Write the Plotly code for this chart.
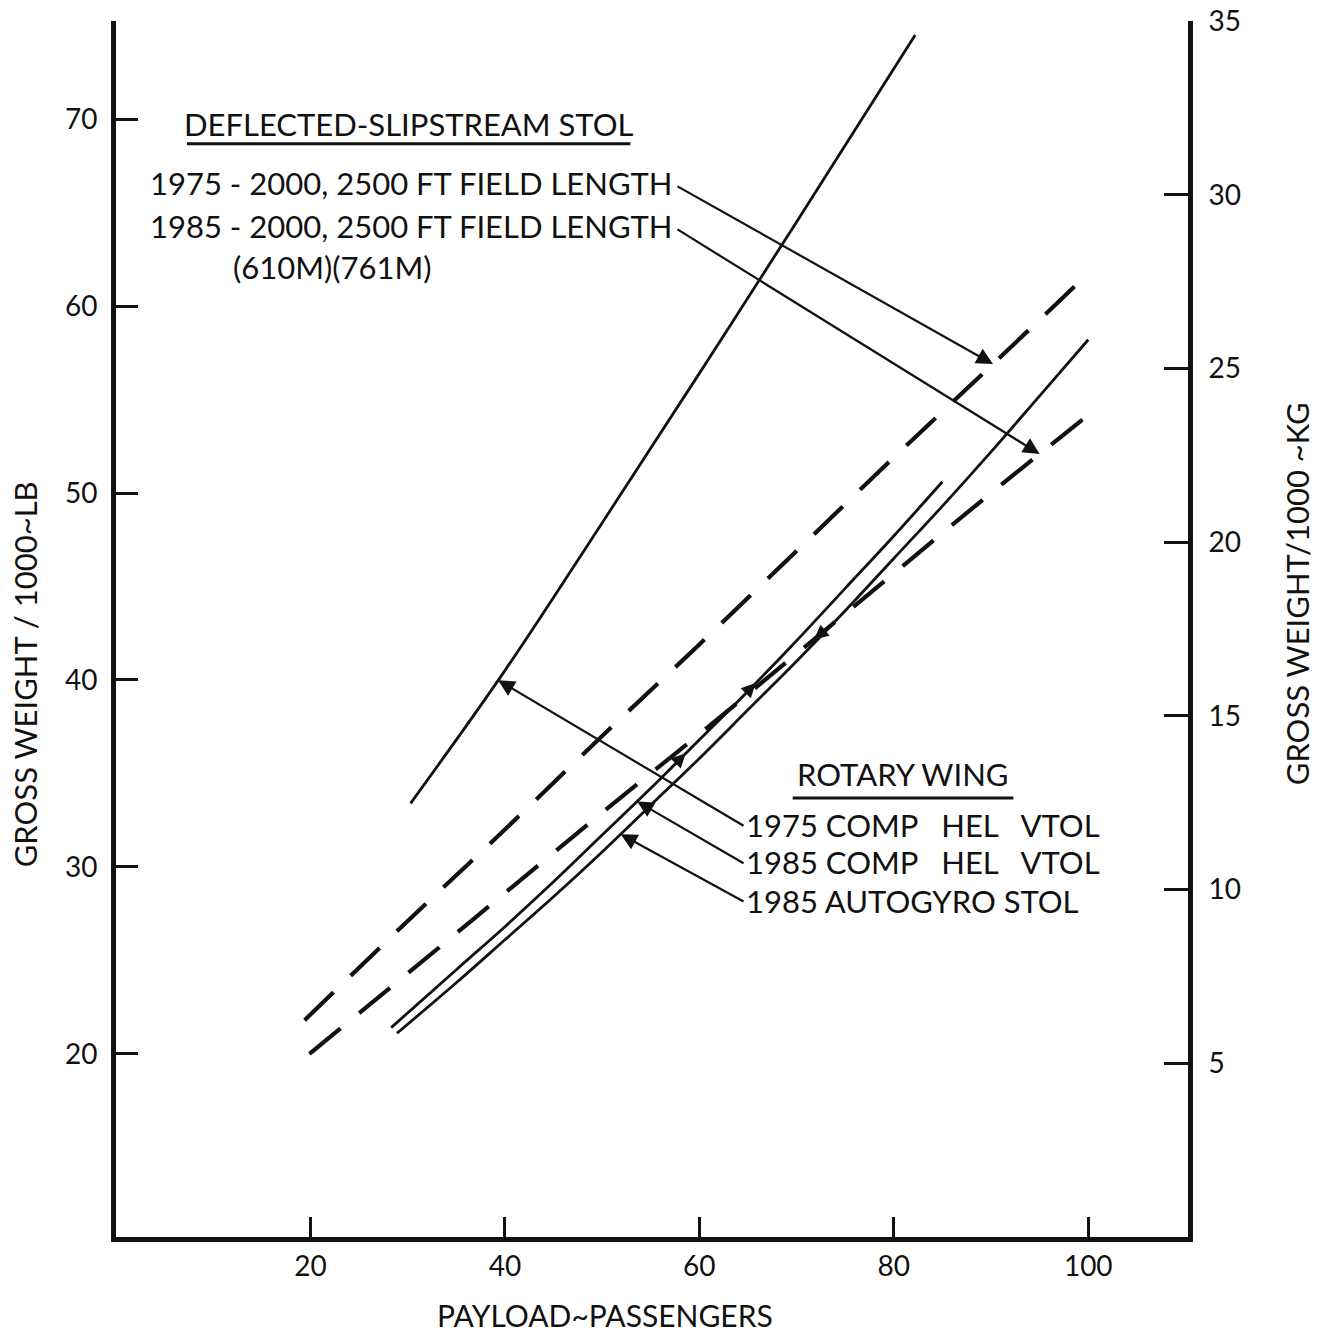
import numpy as np
import plotly.graph_objects as go

# ---------------- data ----------------
# 1975 compound helicopter VTOL (steep solid line)
hel75_x = [30.3, 40, 50, 60, 70, 82.2]
hel75_y = [33.4, 40.5, 48.4, 56.4, 64.5, 74.5]
# 1975-2000 deflected slipstream STOL (upper dashed)
stol75_x = [19.4, 30, 40, 50, 60, 70, 80, 90, 99.5]
stol75_y = [21.8, 27.1, 32.0, 37.0, 41.9, 46.9, 51.9, 56.8, 61.5]
# 1985-2000 deflected slipstream STOL (lower dashed)
stol85_x = [19.9, 30, 40, 50, 60, 70, 80, 90, 100.8]
stol85_y = [20.0, 24.3, 28.6, 32.9, 37.1, 41.4, 45.7, 50.0, 54.5]
# 1985 compound helicopter VTOL (solid, ends at 85)
hel85_x = [28.3, 35, 40, 45, 50, 55, 60, 65, 70, 75, 80, 85]
hel85_y = [21.4, 24.5, 26.8, 29.2, 31.7, 34.2, 36.8, 39.4, 42.1, 44.9, 47.7, 50.6]
# 1985 autogyro STOL (solid, to 100)
gyro85_x = [28.9, 35, 40, 45, 50, 55, 60, 65, 70, 75, 80, 85, 90, 95, 100]
gyro85_y = [21.1, 23.8, 26.1, 28.4, 30.8, 33.3, 35.8, 38.4, 41.0, 43.7, 46.5, 49.3, 52.2, 55.2, 58.2]

x_ticks = [20, 40, 60, 80, 100]
lb_ticks = [20, 30, 40, 50, 60, 70]
kg_ticks = [5, 10, 15, 20, 25, 30, 35]

FONT = "Lato"
INK = "#111111"
NB = "&nbsp;"

fig = go.Figure()

solid = dict(color=INK, width=2.8)
dashed = dict(color=INK, width=4.2, dash="40px,24px")

fig.add_trace(go.Scatter(x=hel75_x, y=hel75_y, mode="lines", line=dict(solid, shape="spline")))
fig.add_trace(go.Scatter(x=stol75_x, y=stol75_y, mode="lines", line=dict(dashed, shape="spline")))
fig.add_trace(go.Scatter(x=stol85_x, y=stol85_y, mode="lines", line=dict(dashed, shape="spline")))
fig.add_trace(go.Scatter(x=hel85_x, y=hel85_y, mode="lines", line=dict(solid, shape="spline")))
fig.add_trace(go.Scatter(x=gyro85_x, y=gyro85_y, mode="lines", line=dict(solid, shape="spline")))
# invisible trace to activate the right (kg) axis
fig.add_trace(go.Scatter(x=[None], y=[None], yaxis="y2", mode="lines", showlegend=False))


def on(xs, ys, x):
    return float(np.interp(x, xs, ys))


annotations = []
txt = dict(family=FONT, size=31, color=INK)


def label(x, y, text, xanchor="center"):
    annotations.append(dict(x=x, y=y, xref="x", yref="y", text=text, showarrow=False,
                            xanchor=xanchor, yanchor="middle", font=txt))


def arrow(tail, tip, size=1.5):
    annotations.append(dict(x=tip[0], y=tip[1], ax=tail[0], ay=tail[1], xref="x", yref="y",
                            axref="x", ayref="y", text="", showarrow=True, arrowhead=2,
                            arrowsize=size, arrowwidth=2.2, arrowcolor=INK))


# texts (positions in data units)
label(30.1, 69.75, "DEFLECTED-SLIPSTREAM" + NB + "STOL")
label(30.3, 66.57, "1975" + NB + "-" + NB + "2000," + NB + "2500" + NB + "FT FIELD LENGTH")
label(30.3, 64.27, "1985" + NB + "-" + NB + "2000," + NB + "2500" + NB + "FT FIELD LENGTH")
label(22.3, 62.07, "(610M)(761M)")
label(80.9, 34.95, "ROTARY WING")
label(64.6, 32.24, "1975 COMP" + NB * 3 + "HEL" + NB * 3 + "VTOL", "left")
label(64.6, 30.24, "1985 COMP" + NB * 3 + "HEL" + NB * 3 + "VTOL", "left")
label(64.6, 28.2, "1985" + NB + "AUTOGYRO STOL", "left")

# leader arrows
arrow((57.6, 66.45), (90.2, on(stol75_x, stol75_y, 90.2)))
arrow((57.6, 64.15), (95.0, on(stol85_x, stol85_y, 95.0)))
arrow((64.7, 32.15), (39.3, on(hel75_x, hel75_y, 39.3)))
arrow((64.7, 30.15), (53.6, on(hel85_x, hel85_y, 53.6)))
arrow((64.7, 28.1), (51.9, on(gyro85_x, gyro85_y, 51.9)))
# small direction heads on the curves
for xs, ys, x0, x1 in [(stol85_x, stol85_y, 74.0, 71.8),
                       (hel85_x, hel85_y, 63.8, 65.8),
                       (hel85_x, hel85_y, 56.6, 58.6)]:
    arrow((x0, on(xs, ys, x0)), (x1, on(xs, ys, x1)), size=1.3)

# axis titles
annotations.append(dict(x=-0.0846, y=0.463, xref="paper", yref="paper", text="GROSS WEIGHT / 1000~LB",
                        textangle=-90, showarrow=False, font=txt, xanchor="center", yanchor="middle"))
annotations.append(dict(x=1.1017, y=0.5286, xref="paper", yref="paper", text="GROSS WEIGHT/1000 ~KG",
                        textangle=-90, showarrow=False, font=txt, xanchor="center", yanchor="middle"))
annotations.append(dict(x=0.4564, y=-0.0645, xref="paper", yref="paper", text="PAYLOAD~PASSENGERS",
                        showarrow=False, font=dict(txt, size=30), xanchor="center", yanchor="middle"))

shapes = [
    dict(type="line", xref="x", yref="y", x0=7.3, x1=52.9, y0=68.68, y1=68.68, line=dict(color=INK, width=3)),
    dict(type="line", xref="x", yref="y", x0=69.6, x1=92.3, y0=33.68, y1=33.68, line=dict(color=INK, width=3)),
]

axis_common = dict(showline=True, linecolor=INK, linewidth=5, showgrid=False, zeroline=False,
                   ticks="inside", tickcolor=INK, tickwidth=2.5, automargin=False,
                   tickfont=dict(family=FONT, size=28, color=INK))

fig.update_layout(
    width=1332, height=1334,
    margin=dict(l=115.5, r=144, t=21, b=97.3),
    plot_bgcolor="white", paper_bgcolor="white",
    showlegend=False,
    xaxis=dict(axis_common, range=[0, 110.26], tickvals=x_ticks, ticklen=20, ticklabelstandoff=0),
    yaxis=dict(axis_common, range=[10.2, 75.25], tickvals=lb_ticks, ticklen=22, ticklabelstandoff=8),
    yaxis2=dict(axis_common, range=[0, 35.0], tickvals=kg_ticks, ticklen=24, ticklabelstandoff=10,
                overlaying="y", side="right"),
    annotations=annotations,
    shapes=shapes,
)

fig.write_html("out.html")
